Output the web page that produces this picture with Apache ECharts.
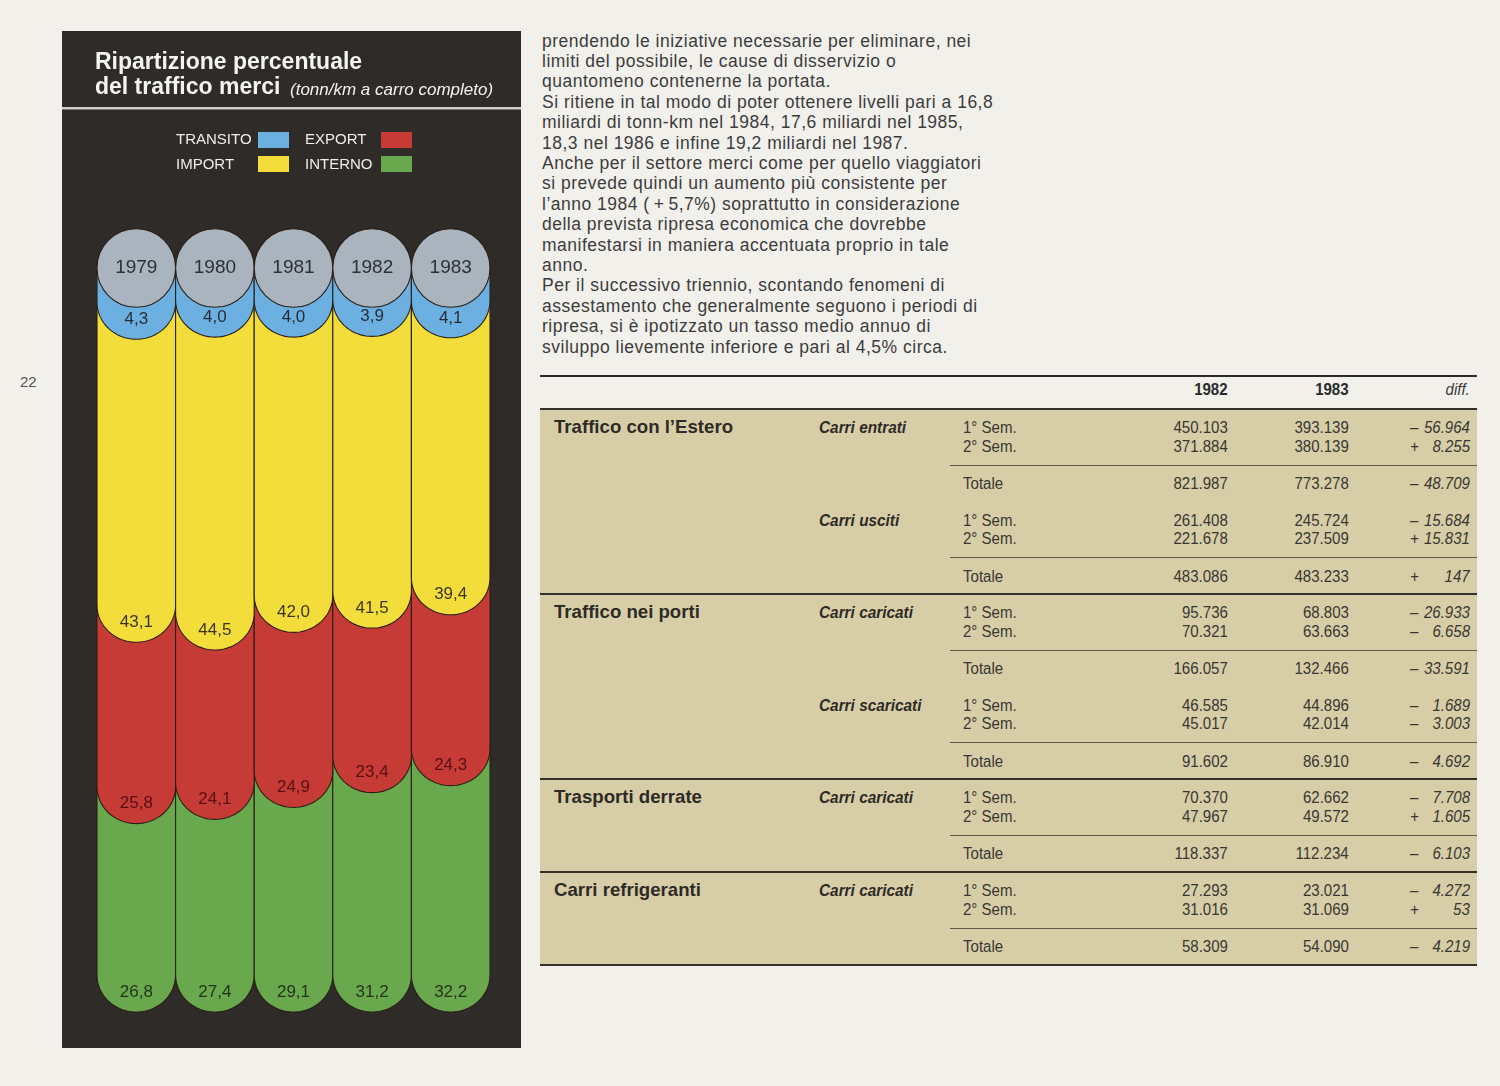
<!DOCTYPE html>
<html>
<head>
<meta charset="utf-8">
<script src="https://cdn.jsdelivr.net/npm/echarts@6/dist/echarts.min.js"></script>
<style>
  html,body{margin:0;padding:0;}
  body{width:1500px;height:1086px;background:#f2f0eb;position:relative;overflow:hidden;font-family:'Liberation Sans',Arial,Helvetica,sans-serif;}
  #chart{position:absolute;left:62px;top:31px;width:459px;height:1017px;}
  .t{position:absolute;line-height:1;white-space:pre;color:#3a3631;font-size:16px;}
  .r{position:absolute;}
  #prose{position:absolute;left:542px;top:30.6px;font-size:17.5px;letter-spacing:0.5px;line-height:20.4px;color:#3c3c3c;white-space:pre;}
</style>
</head>
<body>
<div id="chart"></div>
<div id="prose"></div>
<div id="table"></div>
<script>
// ---- chart data ----
const years = ['1979', '1980', '1981', '1982', '1983'];
const transito = [4.3, 4.0, 4.0, 3.9, 4.1];
const importShare = [43.1, 44.5, 42.0, 41.5, 39.4];
const exportShare = [25.8, 24.1, 24.9, 23.4, 24.3];
const interno = [26.8, 27.4, 29.1, 31.2, 32.2];
const legendLabels = ['TRANSITO', 'EXPORT', 'IMPORT', 'INTERNO'];

// ---- table data ----
const tableYears = ['1982', '1983', 'diff.'];
const tableSections = [
  ['Traffico con l\u2019Estero', [
    ['Carri entrati', [['1° Sem.', '450.103', '393.139', '\u2013', '56.964'], ['2° Sem.', '371.884', '380.139', '+', '8.255'], ['Totale', '821.987', '773.278', '\u2013', '48.709']]],
    ['Carri usciti', [['1° Sem.', '261.408', '245.724', '\u2013', '15.684'], ['2° Sem.', '221.678', '237.509', '+', '15.831'], ['Totale', '483.086', '483.233', '+', '147']]]
  ]],
  ['Traffico nei porti', [
    ['Carri caricati', [['1° Sem.', '95.736', '68.803', '\u2013', '26.933'], ['2° Sem.', '70.321', '63.663', '\u2013', '6.658'], ['Totale', '166.057', '132.466', '\u2013', '33.591']]],
    ['Carri scaricati', [['1° Sem.', '46.585', '44.896', '\u2013', '1.689'], ['2° Sem.', '45.017', '42.014', '\u2013', '3.003'], ['Totale', '91.602', '86.910', '\u2013', '4.692']]]
  ]],
  ['Trasporti derrate', [
    ['Carri caricati', [['1° Sem.', '70.370', '62.662', '\u2013', '7.708'], ['2° Sem.', '47.967', '49.572', '+', '1.605'], ['Totale', '118.337', '112.234', '\u2013', '6.103']]]
  ]],
  ['Carri refrigeranti', [
    ['Carri caricati', [['1° Sem.', '27.293', '23.021', '\u2013', '4.272'], ['2° Sem.', '31.016', '31.069', '+', '53'], ['Totale', '58.309', '54.090', '\u2013', '4.219']]]
  ]]
];

const proseLines = [
  'prendendo le iniziative necessarie per eliminare, nei',
  'limiti del possibile, le cause di disservizio o',
  'quantomeno contenerne la portata.',
  'Si ritiene in tal modo di poter ottenere livelli pari a 16,8',
  'miliardi di tonn-km nel 1984, 17,6 miliardi nel 1985,',
  '18,3 nel 1986 e infine 19,2 miliardi nel 1987.',
  'Anche per il settore merci come per quello viaggiatori',
  'si prevede quindi un aumento più consistente per',
  'l\u2019anno 1984 (\u2009+\u20095,7%) soprattutto in considerazione',
  'della prevista ripresa economica che dovrebbe',
  'manifestarsi in maniera accentuata proprio in tale',
  'anno.',
  'Per il successivo triennio, scontando fenomeni di',
  'assestamento che generalmente seguono i periodi di',
  'ripresa, si è ipotizzato un tasso medio annuo di',
  'sviluppo lievemente inferiore e pari al 4,5% circa.'
];

// ---- colours ----
const C = {
  panel: '#2e2b29', grey: '#a9b4be', blue: '#6cb0e2', yellow: '#f3dd3b',
  red: '#c73b37', green: '#6aa84e', outline: '#2a2018'
};

// ---- prose ----
document.getElementById('prose').textContent = proseLines.join('\n');

// ---- page number & table ----
const tbl = document.getElementById('table');
function txt(s, o) {
  const d = document.createElement('div');
  d.className = 't';
  d.textContent = s;
  const sx = o.sx || 0.94;
  if (o.left !== undefined) { d.style.left = o.left + 'px'; d.style.transformOrigin = 'left center'; }
  if (o.right !== undefined) { d.style.right = (1500 - o.right) + 'px'; d.style.transformOrigin = 'right center'; }
  d.style.transform = `translateY(-50%) scaleX(${sx})`;
  d.style.top = o.cy + 'px';
  if (o.font) d.style.font = o.font;
  if (o.color) d.style.color = o.color;
  tbl.appendChild(d);
}
function rect(x, y, w, h, c) {
  const d = document.createElement('div');
  d.className = 'r';
  d.style.cssText = `left:${x}px;top:${y}px;width:${w}px;height:${h}px;background:${c};`;
  tbl.appendChild(d);
}
const F = "'Liberation Sans',Arial,sans-serif";
txt('22', {left: 20, cy: 381, font: `15px ${F}`, color: '#555', sx: 1});

const TL = 540, TR = 1477;
rect(TL, 375, TR - TL, 2, '#2d2a27');
txt(tableYears[0], {right: 1228, cy: 390, font: `bold 16px ${F}`, color: '#2a2a2a'});
txt(tableYears[1], {right: 1349, cy: 390, font: `bold 16px ${F}`, color: '#2a2a2a'});
txt(tableYears[2], {right: 1470, cy: 390, font: `italic 16px ${F}`, color: '#3a3a3a'});
rect(TL, 409, TR - TL, 556, '#d7cea8');

const GH = 92.6;
let y0 = 409;
tableSections.forEach(sec => {
  rect(TL, y0 - 1, TR - TL, 2, '#35312b');
  txt(sec[0], {left: 554, cy: y0 + 18, font: `bold 19px ${F}`, color: '#2e2a25', sx: 0.98});
  sec[1].forEach((grp, gi) => {
    const g = y0 + gi * GH;
    txt(grp[0], {left: 819, cy: g + 19, font: `italic bold 16px ${F}`, color: '#2e2a25', sx: 0.96});
    const ys = [g + 19, g + 37.5, g + 75];
    grp[1].forEach((row, ri) => {
      const cy = ys[ri];
      txt(row[0], {left: 963, cy});
      txt(row[1], {right: 1228, cy});
      txt(row[2], {right: 1349, cy});
      txt(row[3], {left: 1410, cy, font: `italic 16px ${F}`});
      txt(row[4], {right: 1470, cy, font: `italic 16px ${F}`});
    });
    rect(950, g + 55.5, TR - 950, 1, '#5e574a');
  });
  y0 += sec[1].length * GH;
});
rect(TL, 964, TR - TL, 2, '#35312b');

// ---- chart ----
const chart = echarts.init(document.getElementById('chart'), null, {width: 459, height: 1017});

const layers = [
  {name: 'TRANSITO', vals: transito, color: C.blue, z: 5, label: 'rgba(25,20,20,0.85)'},
  {name: 'IMPORT', vals: importShare, color: C.yellow, z: 4, label: 'rgba(25,20,20,0.85)'},
  {name: 'EXPORT', vals: exportShare, color: C.red, z: 3, label: 'rgba(60,5,10,0.8)'},
  {name: 'INTERNO', vals: interno, color: C.green, z: 2, label: 'rgba(20,30,15,0.85)'}
];
// stack from the top (value 0) downwards
const cum = years.map(() => 0);
layers.forEach(L => {
  L.data = L.vals.map((v, i) => {
    const s = cum[i];
    cum[i] = s + v;
    return [i, s, cum[i], v];
  });
});

const RY = 37;
function segRender(color, labelColor) {
  return function (params, api) {
    const i = api.value(0), s = api.value(1), e = api.value(2), v = api.value(3);
    const pTop = api.coord([i, s]);
    const pBot = api.coord([i, e]);
    const w = api.size([1, 0])[0];
    const rx = w / 2, cx = pTop[0];
    const yTop = pTop[1] - RY - 3;
    const yArc = pBot[1] - RY;
    const pts = [[cx - rx, yTop], [cx - rx, yArc]];
    const N = 40;
    for (let k = 1; k < N; k++) {
      const th = Math.PI - Math.PI * k / N;
      pts.push([cx + rx * Math.cos(th), yArc + RY * Math.sin(th)]);
    }
    pts.push([cx + rx, yArc], [cx + rx, yTop]);
    return {
      type: 'group',
      children: [
        {type: 'polygon', shape: {points: pts}, style: {fill: color, stroke: C.outline, lineWidth: 1.1}},
        {type: 'text', style: {text: v.toFixed(1).replace('.', ','), x: cx, y: pBot[1] - 20,
          align: 'center', verticalAlign: 'middle', textAlign: 'center', textVerticalAlign: 'middle',
          fill: labelColor, font: `17px ${F}`}}
      ]
    };
  };
}

const series = layers.map(L => ({
  type: 'custom', name: L.name, z: L.z, data: L.data,
  renderItem: segRender(L.color, L.label)
}));
series.push({
  type: 'custom', name: 'anni', z: 6,
  data: years.map((y, i) => [i, 0]),
  renderItem: function (params, api) {
    const i = api.value(0);
    const p = api.coord([i, 0]);
    const r = api.size([1, 0])[0] / 2;
    return {
      type: 'group',
      children: [
        {type: 'circle', shape: {cx: p[0], cy: p[1] - 41, r: r}, style: {fill: C.grey, stroke: C.outline, lineWidth: 1.1}},
        {type: 'text', style: {text: years[i], x: p[0], y: p[1] - 41, align: 'center', verticalAlign: 'middle',
          textAlign: 'center', textVerticalAlign: 'middle', fill: '#2c3036', font: `19px ${F}`}}
      ]
    };
  }
});

const legendColors = [C.blue, C.red, C.yellow, C.green];
const legendPos = [[114, 109, 196, 101], [243, 109, 319, 101], [114, 134, 196, 125], [243, 134, 319, 125]];
const graphic = [
  {type: 'text', x: 33, y: 32, style: {text: 'Ripartizione percentuale', fill: '#f4f4f2', font: `bold 23px ${F}`, verticalAlign: 'middle', textVerticalAlign: 'middle'}},
  {type: 'text', x: 33, y: 57, style: {text: 'del traffico merci', fill: '#f4f4f2', font: `bold 23px ${F}`, verticalAlign: 'middle', textVerticalAlign: 'middle'}},
  {type: 'text', x: 228, y: 59, style: {text: '(tonn/km a carro completo)', fill: '#f4f4f2', font: `italic 17px ${F}`, verticalAlign: 'middle', textVerticalAlign: 'middle'}},
  {type: 'rect', shape: {x: 0, y: 76, width: 459, height: 2.5}, style: {fill: '#cfcfcd'}}
];
legendLabels.forEach((lab, k) => {
  const p = legendPos[k];
  graphic.push({type: 'text', x: p[0], y: p[1], style: {text: lab, fill: '#eeeeee', font: `15px ${F}`, verticalAlign: 'middle', textVerticalAlign: 'middle'}});
  graphic.push({type: 'rect', shape: {x: p[2], y: p[3], width: 31, height: 16}, style: {fill: legendColors[k]}});
});

chart.setOption({
  backgroundColor: C.panel,
  animation: false,
  grid: {left: 35, top: 278, width: 393, height: 703},
  xAxis: {type: 'category', data: years, show: false},
  yAxis: {type: 'value', min: 0, max: 100, inverse: true, show: false},
  graphic: graphic,
  series: series
});
</script>
</body>
</html>
